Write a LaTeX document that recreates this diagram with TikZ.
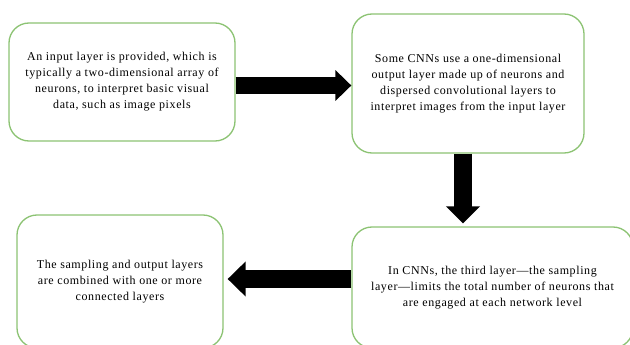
\documentclass[tikz,border=0pt]{standalone}
\usepackage{fontspec}
\setmainfont{Liberation Serif}
\newfontfamily\boxfont[LetterSpace=5]{Liberation Serif}
\usetikzlibrary{arrows.meta}
\definecolor{boxgreen}{RGB}{140,195,115}
\tikzset{
  infobox/.style={draw=boxgreen, line width=1.3pt, rounded corners=20pt, fill=white,
    align=center, inner sep=0pt, font=\boxfont\fontsize{12}{16}\selectfont},
}
\begin{document}
\begin{tikzpicture}[x=1pt,y=-1pt]
\useasboundingbox (0,0) rectangle (630,345);
\begin{scope}
\clip (0,0) rectangle (630,345);
\node[infobox, minimum width=226pt, minimum height=118pt] (box1) at (122,82)
  {An input layer is provided, which is\\typically a two-dimensional array of\\neurons, to interpret basic visual\\data, such as image pixels};
\node[infobox, minimum width=232pt, minimum height=139pt] (box2) at (468,83.5)
  {Some CNNs use a one-dimensional\\output layer made up of neurons and\\dispersed convolutional layers to\\interpret images from the input layer};
\node[infobox, minimum width=206pt, minimum height=133pt] (box3) at (120,281.5)
  {The sampling and output layers\\are combined with one or more\\connected layers};
\node[infobox, minimum width=281pt, minimum height=121pt] (box4) at (492.5,287.5)
  {In CNNs, the third layer—the sampling\\layer—limits the total number of neurons that\\are engaged at each network level};
\end{scope}
% arrow 1
\coordinate (a1s) at ([yshift=-3.5pt]box1.east);
\coordinate (a1e) at (a1s -| box2.west);
\draw[line width=17pt, -{Triangle[length=16pt,width=30pt]}] (a1s) -- (a1e);
% arrow 2
\coordinate (a2s) at ([xshift=-5pt]box2.south);
\coordinate (a2e) at (a2s |- box4.north);
\draw[line width=18pt, shorten >=3pt, -{Triangle[length=17pt,width=33pt]}] (a2s) -- (a2e);
% arrow 3
\coordinate (a3s) at ([yshift=8.5pt]box4.west);
\coordinate (a3e) at (a3s -| box3.east);
\draw[line width=18pt, shorten >=4pt, -{Triangle[length=18pt,width=34pt]}] (a3s) -- (a3e);
\end{tikzpicture}
\end{document}
